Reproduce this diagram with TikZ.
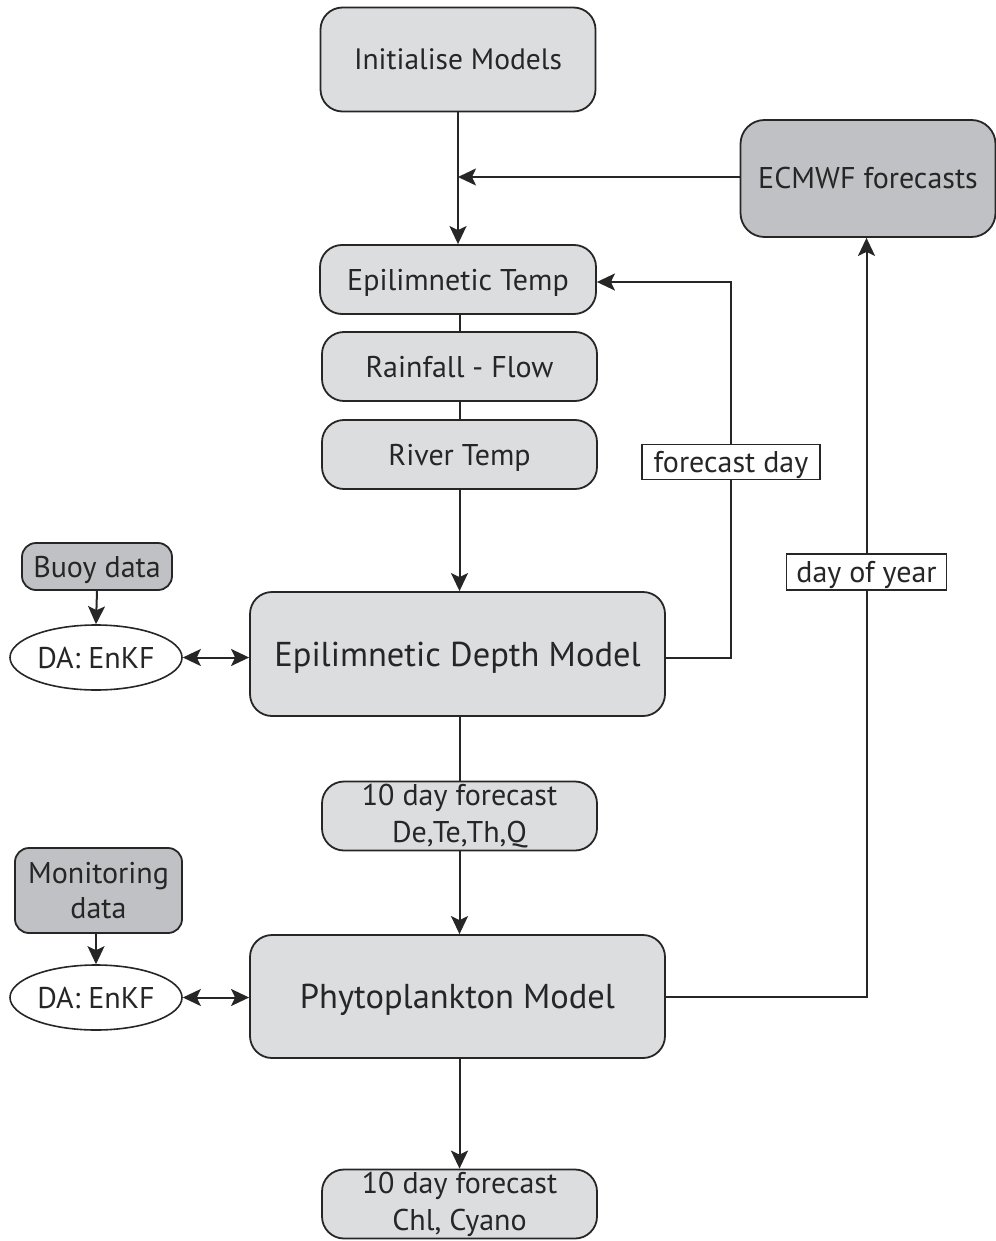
\documentclass[tikz,border=0pt]{standalone}
\usepackage{fontspec}
\setmainfont{PT Sans}
\usetikzlibrary{arrows.meta,shapes.geometric}
\definecolor{lightfill}{HTML}{DCDDDF}
\definecolor{darkfill}{HTML}{C0C1C4}
\definecolor{edgecol}{HTML}{262626}
\begin{document}
\begin{tikzpicture}[x=1pt,y=-1pt,
  every node/.style={inner sep=0pt, text=edgecol},
  lbox/.style={draw=edgecol, line width=1.8pt, fill=lightfill, rounded corners=22pt, align=center},
  dbox/.style={draw=edgecol, line width=1.8pt, fill=darkfill, rounded corners=14pt, align=center},
  one/.style={text height=21pt, text depth=0pt},
  tag/.style={draw=edgecol, line width=1.6pt, fill=white, font=\fontsize{30}{34}\selectfont, one},
  ell/.style={draw=edgecol, line width=1.6pt, fill=white, ellipse, minimum width=172pt, minimum height=65pt, font=\fontsize{30}{34}\selectfont, one},
  conn/.style={draw=edgecol, line width=2pt},
  tip/.tip={Stealth[length=18pt,width=17pt,inset=4pt]},
  arr/.style={conn, -tip},
  darr/.style={conn, tip-tip},
  midf/.style={font=\fontsize{30}{34}\selectfont},
  twof/.style={font=\fontsize{30}{37}\selectfont},
  bigf/.style={font=\fontsize{34.5}{38}\selectfont, text height=24pt, text depth=0pt}
]
\useasboundingbox (0,0) rectangle (995,1241);

\node[lbox, minimum width=275pt, minimum height=104pt, font=\fontsize{29.5}{34}\selectfont, one] (init) at (458,59.5) {Initialise Models};
\node[dbox, minimum width=255pt, minimum height=117pt, rounded corners=24pt, midf, one] (ecmwf) at (868,178.5) {ECMWF forecasts};

\node[lbox, midf, one, minimum width=276pt, minimum height=69pt] (etemp) at (458,279.5) {Epilimnetic Temp};
\node[lbox, midf, one, minimum width=275pt, minimum height=69pt] (rain) at (459.5,366.5) {Rainfall - Flow};
\node[lbox, midf, one, minimum width=275pt, minimum height=69pt] (rtemp) at (459.5,454.5) {River Temp};

\node[lbox, bigf, minimum width=415pt, minimum height=124pt] (edm) at (457.5,654) {Epilimnetic Depth Model};
\node[lbox, twof, minimum width=275pt, minimum height=69pt] (fc1) at (459.5,816) {10 day forecast\\De,Te,Th,Q};
\node[lbox, bigf, minimum width=415pt, minimum height=123pt] (phy) at (457.5,996.5) {Phytoplankton Model};
\node[lbox, twof, minimum width=275pt, minimum height=69pt] (fc2) at (459.5,1204) {10 day forecast\\Chl, Cyano};

\node[dbox, midf, one, minimum width=150pt, minimum height=47pt] (buoy) at (97,566.5) {Buoy data};
\node[ell] (da1) at (96,657.5) {DA: EnKF};
\node[dbox, font=\fontsize{30}{35}\selectfont, minimum width=167pt, minimum height=85pt] (mon) at (98.5,890.5) {Monitoring\\data};
\node[ell] (da2) at (96,997.5) {DA: EnKF};

\node[tag, minimum width=178pt, minimum height=35pt] (fday) at (731,462) {forecast day};
\node[tag, minimum width=160pt, minimum height=36pt] (doy) at (866.5,572) {day of year};

% main chain
\coordinate (j1) at (458,177);
\draw[conn] (init.south) -- (j1);
\draw[arr] (j1) -- (etemp.north);
\draw[arr] (ecmwf.west |- j1) -- (j1);
\draw[conn] (etemp.south -| rain.north) -- (rain.north);
\draw[conn] (rain.south) -- (rtemp.north);
\draw[arr] (rtemp.south) -- (rtemp.south |- edm.north);
\draw[conn] (edm.south -| fc1.north) -- (fc1.north);
\draw[arr] (fc1.south) -- (fc1.south |- phy.north);
\draw[arr] (phy.south -| fc2.north) -- (fc2.north);

% forecast day loop
\coordinate (c1) at (731,658);
\coordinate (c2) at (731,282);
\draw[conn] (edm.east |- c1) -- (c1) -- (fday.south);
\draw[arr] (fday.north) -- (c2) -- (etemp.east |- c2);

% day of year loop
\coordinate (c3) at (866.5,997);
\draw[conn] (phy.east |- c3) -- (c3) -- (doy.south);
\draw[arr] (doy.north) -- (doy.north |- ecmwf.south);

% data assimilation
\draw[arr] (buoy.south) -- (da1.north);
\draw[darr] (da1.east) -- (edm.west |- da1.east);
\draw[arr] (mon.south -| da2.north) -- (da2.north);
\draw[darr] (da2.east) -- (phy.west |- da2.east);
\end{tikzpicture}
\end{document}
